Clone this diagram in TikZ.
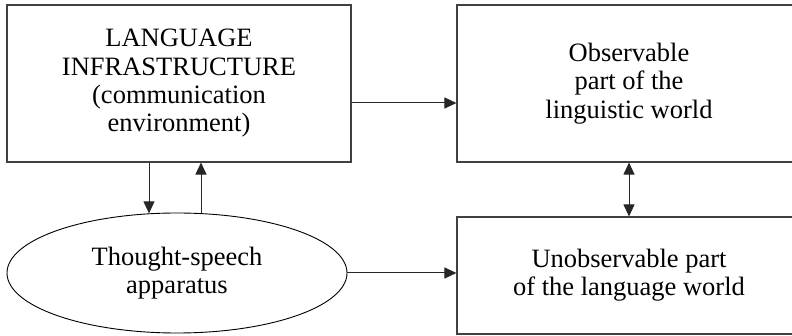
\documentclass[tikz,border=0pt]{standalone}
\usepackage{fontspec}
\setmainfont{Liberation Serif}
\usetikzlibrary{arrows.meta,positioning,shapes.geometric}

\begin{document}
\begin{tikzpicture}[
  x=1pt, y=-1pt,
  font=\fontsize{26.5}{28.3}\selectfont,
  box/.style={draw=black!75, line width=1.1pt, align=center, minimum width=344pt, minimum height=157pt, inner sep=0pt},
  oval/.style={draw, ellipse, line width=0.9pt, align=center, minimum width=340pt, minimum height=120pt, inner sep=0pt},
  arr/.style={-{Triangle[length=12pt, width=11pt]}, line width=1pt, black!85},
  darr/.style={{Triangle[length=12pt, width=11pt]}-{Triangle[length=12pt, width=11pt]}, line width=1pt, black!85}
]
\useasboundingbox (0,0) rectangle (792,336);
\node[box] (infra) at (179,83.5) {LANGUAGE\\INFRASTRUCTURE\\(communication\\environment)};
\node[box] (obs) at (629,83.5) {Observable\\part of the\\linguistic world};
\node[box, minimum height=117pt] (unobs) at (629,275.5) {Unobservable part\\of the language world};
\node[oval] (tsa) at (177,273) {Thought-speech\\apparatus};
\draw[arr] ([yshift=-19.5pt]infra.east) -- ([yshift=-19.5pt]obs.west);
\draw[arr] ([xshift=-30pt]infra.south) -- ([xshift=-30pt,yshift=-0.8pt]infra.south |- tsa.north);
\draw[arr] ([xshift=22pt,yshift=-0.3pt]infra.south |- tsa.north) -- ([xshift=22pt]infra.south);
\draw[darr] (obs.south) -- (unobs.north);
\draw[arr] (tsa.east) -- (tsa.east -| unobs.west);
\end{tikzpicture}
\end{document}
